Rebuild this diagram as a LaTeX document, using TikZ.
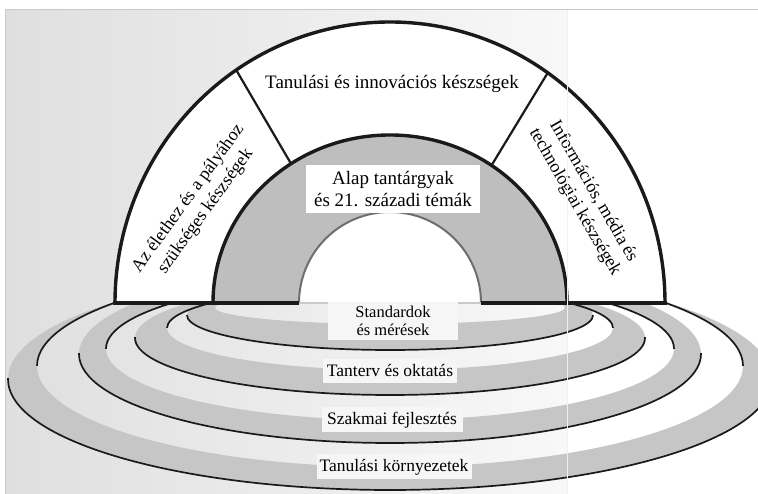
\documentclass[tikz,border=0pt]{standalone}
\usepackage{fontspec}
\setmainfont{Liberation Serif}
\usetikzlibrary{calc,positioning}
\definecolor{ink}{HTML}{1A1A1A}
\definecolor{ringgray}{HTML}{C6C6C6}
\definecolor{sectorgray}{HTML}{BEBEBE}
\definecolor{holegray}{HTML}{6E6E6E}
\definecolor{bgleft}{HTML}{DFDFDF}
\definecolor{bgright}{HTML}{F8F8F8}
\definecolor{framegray}{HTML}{C9C9C9}
\definecolor{labelbg}{HTML}{F6F6F6}
\tikzset{
  rimline/.style={draw=ink,line width=3.4pt},
  spokeline/.style={draw=ink,line width=2.2pt},
  ringedge/.style={draw=ink,line width=1.7pt},
  ringfill/.style={fill=ringgray,even odd rule},
  toptext/.style={font=\fontsize{19}{22}\selectfont,align=center,inner sep=2pt},
  sidetext/.style={font=\fontsize{18}{21.5}\selectfont,align=center,inner sep=0pt},
  ringlabel/.style={fill=labelbg,font=\fontsize{17.5}{18}\selectfont,align=center,inner sep=1pt}
}

\begin{document}
\begin{tikzpicture}[x=1pt,y=1pt]
  \useasboundingbox (0,0) rectangle (758,494);
  % background panel
  \fill[white] (0,0) rectangle (758,494);
  \shade[left color=bgleft,right color=bgright] (5,0) rectangle (567,484);
  \draw[framegray,line width=1pt] (5,0) -- (5,484) -- (758,484);

  % rings below the arch
  \begin{scope}
    \clip (0,0) rectangle (758,191);
    \fill[ringfill] (390,115) ellipse [x radius=382,y radius=111] (390,128) ellipse [x radius=353,y radius=101];
    \fill[ringfill] (390,140) ellipse [x radius=311,y radius=89] (390,145.3) ellipse [x radius=284,y radius=71.3];
    \fill[ringfill] (390,156) ellipse [x radius=255,y radius=57] (390,166) ellipse [x radius=223,y radius=42];
    \fill[ringfill] (390,178.8) ellipse [x radius=203,y radius=34.8] (390,186.4) ellipse [x radius=175,y radius=16.4];
  \end{scope}
  \begin{scope}
    \clip (0,128) rectangle (758,191);
    \draw[ringedge] (390,128) ellipse [x radius=353,y radius=101];
  \end{scope}
  \begin{scope}
    \clip (0,0) rectangle (758,115);
    \draw[ringedge] (390,115) ellipse [x radius=382,y radius=111];
  \end{scope}
  \begin{scope}
    \clip (0,145.3) rectangle (758,191);
    \draw[ringedge] (390,145.3) ellipse [x radius=284,y radius=71.3];
  \end{scope}
  \begin{scope}
    \clip (0,0) rectangle (758,140);
    \draw[ringedge] (390,140) ellipse [x radius=311,y radius=89];
  \end{scope}
  \begin{scope}
    \clip (0,166) rectangle (758,191);
    \draw[ringedge] (390,166) ellipse [x radius=223,y radius=42];
  \end{scope}
  \begin{scope}
    \clip (0,0) rectangle (758,156);
    \draw[ringedge] (390,156) ellipse [x radius=255,y radius=57];
  \end{scope}
  \begin{scope}
    \clip (0,0) rectangle (758,178.8);
    \draw[ringedge] (390,178.8) ellipse [x radius=203,y radius=34.8];
  \end{scope}

  % the arch
  \coordinate (ctr) at (390,191);
  \fill[white] (115,191) arc [start angle=180,end angle=0,x radius=275,y radius=281] -- cycle;
  \fill[sectorgray] (213,191) arc [start angle=180,end angle=0,x radius=177,y radius=168] -- cycle;
  \fill[white] (299,191) arc [start angle=180,end angle=0,radius=91] -- cycle;
  \draw[holegray,line width=2pt] (299,191) arc [start angle=180,end angle=0,radius=91];
  \draw[framegray,line width=1.5pt] (299,191) -- (481,191);
  \draw[rimline] (213,191) arc [start angle=180,end angle=0,x radius=177,y radius=168];
  \coordinate (lo) at ($(ctr)+(124:275 and 281)$);
  \coordinate (li) at ($(ctr)+(124:177 and 168)$);
  \coordinate (ro) at ($(ctr)+(55:275 and 281)$);
  \coordinate (ri) at ($(ctr)+(55:177 and 168)$);
  \draw[spokeline] (lo) -- (li);
  \draw[spokeline] (ro) -- (ri);
  \draw[rimline] (115,191) arc [start angle=180,end angle=0,x radius=275,y radius=281];
  \draw[rimline] (113.3,191) -- (299,191);
  \draw[rimline] (481,191) -- (666.7,191);

  % labels of the arch
  \node[toptext] (tanul) at (392,410) {Tanulási és innovációs készségek};
  \node[toptext,fill=white,minimum width=174,minimum height=48] (alap) at (393,305)
    {Alap tantárgyak\\és 21. századi témák};
  \node[sidetext,rotate=54] (elet) at (197,289) {Az élethez és a pályához\\szükséges készségek};
  \node[sidetext,rotate=-60] (info) at (584,297) {Információs, média és\\technológiai készségek};

  % labels of the rings
  \node[ringlabel,font=\fontsize{16.5}{18}\selectfont,minimum width=130,minimum height=38] (stand) at (393,173)
    {Standardok\\és mérések};
  \node[ringlabel,minimum width=134,minimum height=24] (tant) at (390,123) {Tanterv és oktatás};
  \node[ringlabel,minimum width=141,minimum height=25] (szak) at (392,74) {Szakmai fejlesztés};
  \node[ringlabel,minimum width=155,minimum height=25] (korny) at (394,27) {Tanulási környezetek};

  \draw[gray!12,line width=0.6pt] (567,0) -- (567,484);
\end{tikzpicture}
\end{document}
